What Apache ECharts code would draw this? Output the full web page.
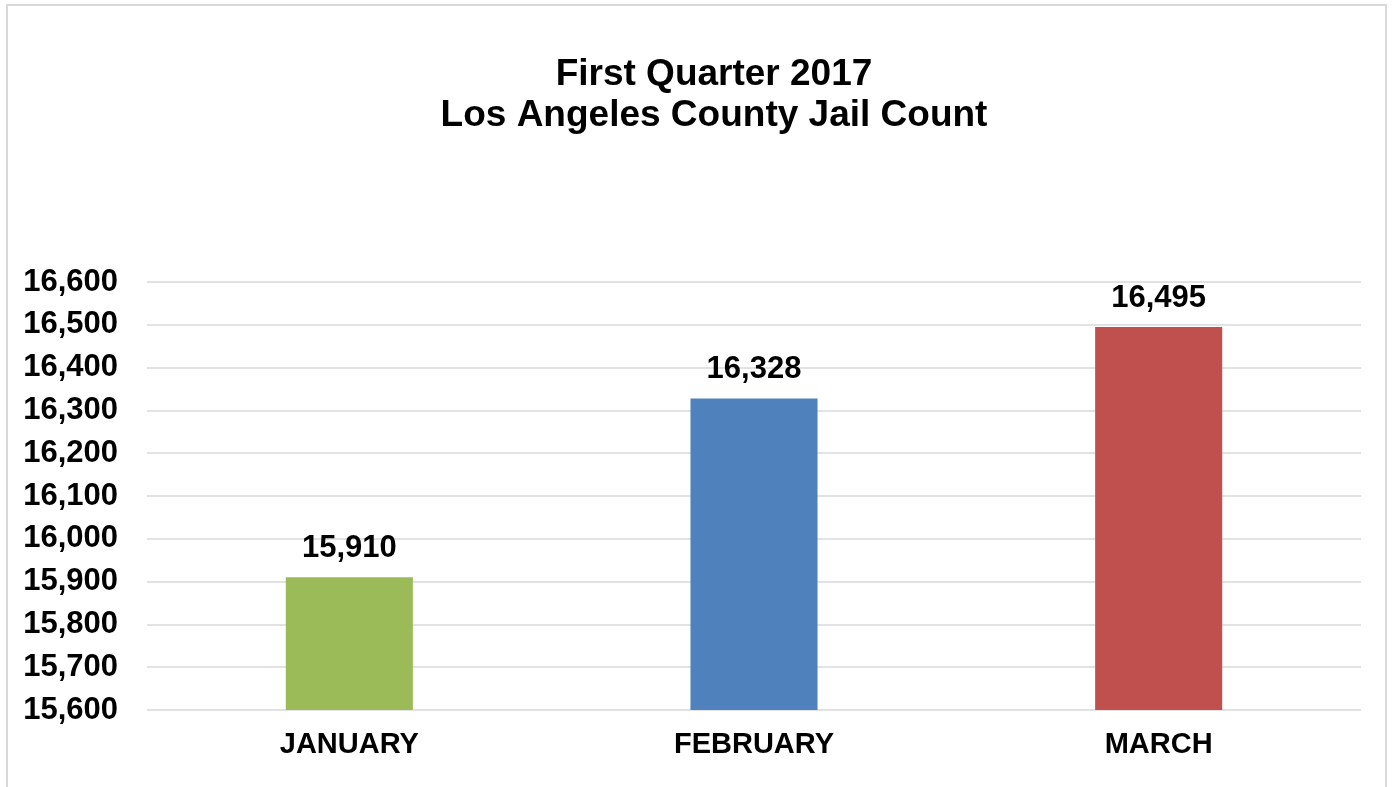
<!DOCTYPE html>
<html>
<head>
<meta charset="utf-8">
<script src="https://cdn.jsdelivr.net/npm/echarts@6/dist/echarts.min.js"></script>
<style>
html,body{margin:0;padding:0;background:#fff;}
#chart{width:1392px;height:787px;}
</style>
</head>
<body>
<div id="chart"></div>
<script>
const titleLines = ['First Quarter 2017', 'Los Angeles County Jail Count'];
const categories = ['JANUARY', 'FEBRUARY', 'MARCH'];
const jailCounts = [15910, 16328, 16495];
const barColors = ['#9BBB59', '#4F81BD', '#C0504D'];
const yMin = 15600, yMax = 16600, yStep = 100;

const FONT = "'Liberation Sans', Arial, sans-serif";
const fmt = v => Number(v).toLocaleString('en-US');

const chart = echarts.init(document.getElementById('chart'));
chart.setOption({
  animation: false,
  backgroundColor: '#fff',
  graphic: [{
    type: 'rect',
    shape: { x: 7, y: 5, width: 1379, height: 900 },
    style: { fill: 'none', stroke: '#d9d9d9', lineWidth: 2 },
    silent: true
  }],
  title: {
    text: titleLines.join('\n'),
    left: 714,
    textAlign: 'center',
    top: 54,
    padding: 0,
    textStyle: {
      fontFamily: FONT, fontSize: 37, fontWeight: 'bold', color: '#000', lineHeight: 41
    }
  },
  grid: { left: 147, right: 31, top: 282, bottom: 77, containLabel: false },
  xAxis: {
    type: 'category',
    data: categories,
    axisLine: { show: false },
    axisTick: { show: false },
    axisLabel: {
      margin: 20, fontFamily: FONT, fontSize: 29, fontWeight: 'bold', color: '#000'
    }
  },
  yAxis: {
    type: 'value',
    min: yMin, max: yMax, interval: yStep,
    axisLine: { show: false },
    axisTick: { show: false },
    axisLabel: {
      margin: 29, formatter: fmt,
      fontFamily: FONT, fontSize: 31, fontWeight: 'bold', color: '#000'
    },
    splitLine: { lineStyle: { color: '#d9d9d9', width: 1.5 } }
  },
  series: [{
    type: 'bar',
    barWidth: '31.4%',
    data: jailCounts.map((v, i) => ({ value: v, itemStyle: { color: barColors[i] } })),
    label: {
      show: true, position: 'top', distance: 13,
      formatter: p => fmt(p.value),
      fontFamily: FONT, fontSize: 31, fontWeight: 'bold', color: '#000'
    }
  }]
});
</script>
</body>
</html>
